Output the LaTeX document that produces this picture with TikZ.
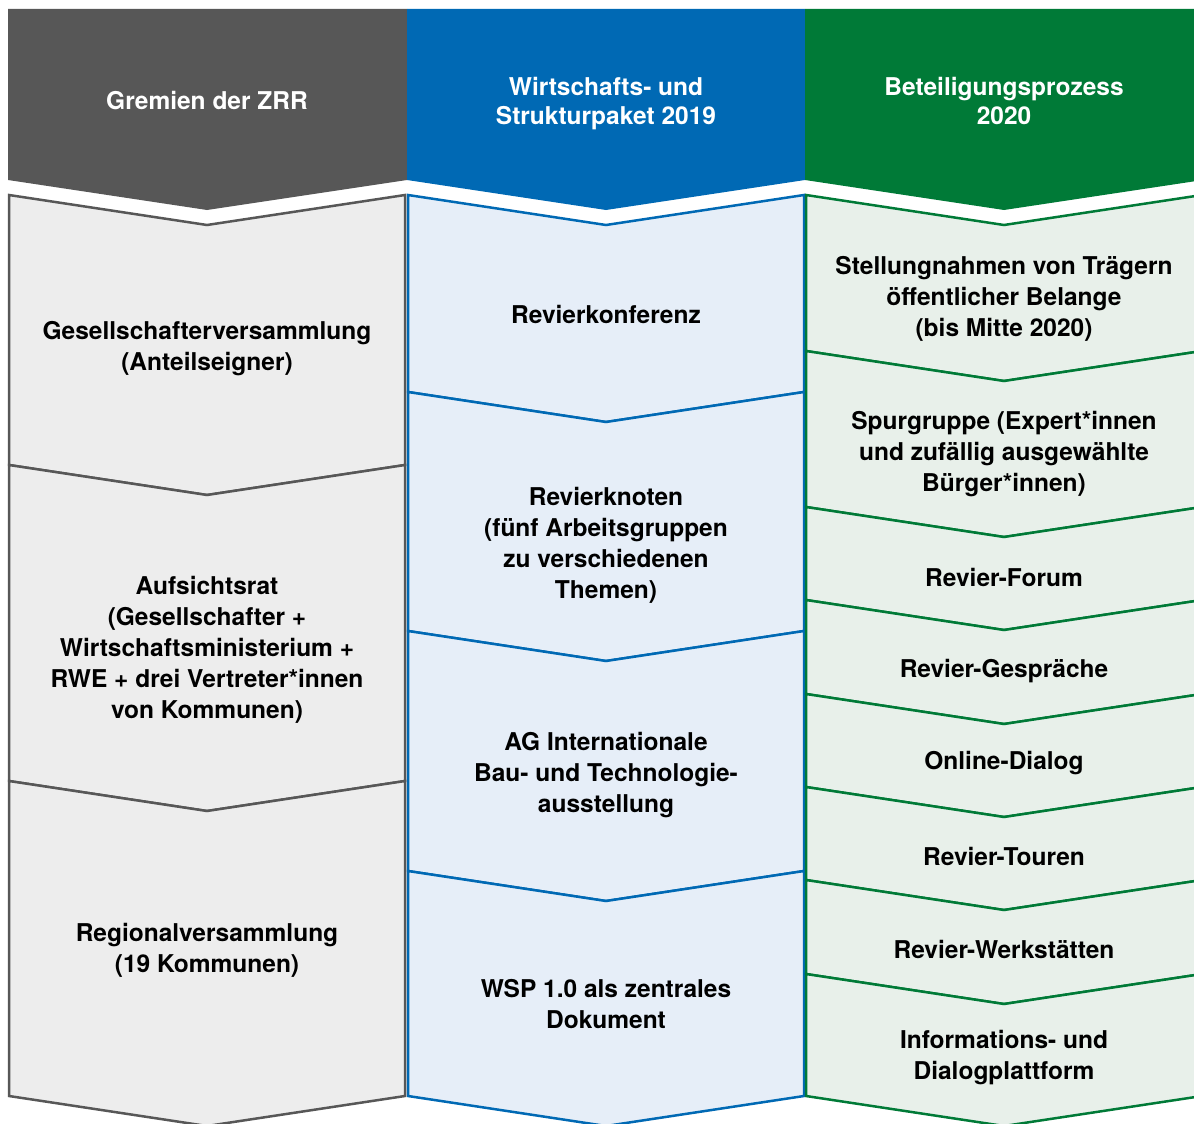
\documentclass[tikz,border=0pt]{standalone}
\usepackage{fontspec}
\setmainfont{TeX Gyre Heros}
\usetikzlibrary{positioning}
\definecolor{zrrgray}{HTML}{575757}
\definecolor{zrrgraylight}{HTML}{EDEDED}
\definecolor{wspblue}{HTML}{0069B4}
\definecolor{wspbluelight}{HTML}{E6EEF8}
\definecolor{betgreen}{HTML}{007A37}
\definecolor{betgreenlight}{HTML}{E8F0EA}
\tikzset{
	x=1pt,
	y=-1pt,
	head/.style={
		font=\bfseries\fontsize{24.5}{29}\selectfont,
		text=white,
		align=center
	},
	item/.style={
		font=\bfseries\fontsize{24.5}{31}\selectfont,
		align=center
	},
	graybox/.style={fill=zrrgraylight, draw=zrrgray, line width=2.5pt, line join=miter},
	bluebox/.style={fill=wspbluelight, draw=wspblue, line width=2.5pt, line join=miter},
	greenbox/.style={fill=betgreenlight, draw=betgreen, line width=2.5pt, line join=miter}
}

\begin{document}
\begin{tikzpicture}
	\useasboundingbox (0,0) rectangle (1194,1124);
	\clip (0,0) rectangle (1194,1124);

	% headers
	\fill [zrrgray]  (8,9)   -- (407,9)  -- (407,180)  -- (207,210)  -- (8,180)   -- cycle;
	\fill [wspblue]  (407,9) -- (805,9)  -- (805,180)  -- (606,210)  -- (407,180) -- cycle;
	\fill [betgreen] (805,9) -- (1203,9) -- (1203,180) -- (1004,210) -- (805,180) -- cycle;

	% chevron segments, one column after the other
	\foreach \t/\b in {195/465,465/781,781/1096}
		\draw [graybox] (9,\t) -- (207,\t+30) -- (405,\t) -- (405,\b) -- (207,\b+30) -- (9,\b) -- cycle;
	\foreach \t/\b in {195/392,392/631,631/871,871/1096}
		\draw [bluebox] (408,\t) -- (606,\t+30) -- (804,\t) -- (804,\b) -- (606,\b+30) -- (408,\b) -- cycle;
	\foreach \t/\b in {195/351,351/507,507/600,600/694,694/787,787/880,880/974,974/1096}
		\draw [greenbox] (806,\t) -- (1004,\t+30) -- (1202,\t) -- (1202,\b) -- (1004,\b+30) -- (806,\b) -- cycle;

	\node [head] (gremien)     at (207,101)  {Gremien der ZRR};
	\node [head] (wsp)         at (606,104)  {Wirtschafts- und\\Strukturpaket 2019};
	\node [head] (beteiligung) at (1004,101) {Beteiligungsprozess\\2020};

	\node [item] (gv) at (207,349) {Gesellschafterversammlung\\(Anteilseigner)};
	\node [item] (ar) at (207,650) {Aufsichtsrat\\(Gesellschafter +\\Wirtschaftsministerium +\\RWE + drei Vertreter*innen\\von Kommunen)};
	\node [item] (rv) at (207,950) {Regionalversammlung\\(19 Kommunen)};

	\node [item] (rk)     at (606,314)  {Revierkonferenz};
	\node [item] (rkn)    at (606,545)  {Revierknoten\\(fünf Arbeitsgruppen\\zu verschiedenen\\Themen)};
	\node [item] (ag)     at (606,775)  {AG Internationale\\Bau- und Technologie-\\ausstellung};
	\node [item] (wspdoc) at (606,1004) {WSP 1.0 als zentrales\\Dokument};

	\node [item] (stell)  at (1004,299)  {Stellungnahmen von Trägern\\öffentlicher Belange\\(bis Mitte 2020)};
	\node [item] (spur)   at (1004,454)  {Spurgruppe (Expert*innen\\und zufällig ausgewählte\\Bürger*innen)};
	\node [item] (forum)  at (1004,577)  {Revier-Forum};
	\node [item] (gespr)  at (1004,671)  {Revier-Gespräche};
	\node [item] (online) at (1004,763)  {Online-Dialog};
	\node [item] (touren) at (1004,856)  {Revier-Touren};
	\node [item] (werk)   at (1004,949)  {Revier-Werkstätten};
	\node [item] (info)   at (1004,1058) {Informations- und\\Dialogplattform};
\end{tikzpicture}
\end{document}
